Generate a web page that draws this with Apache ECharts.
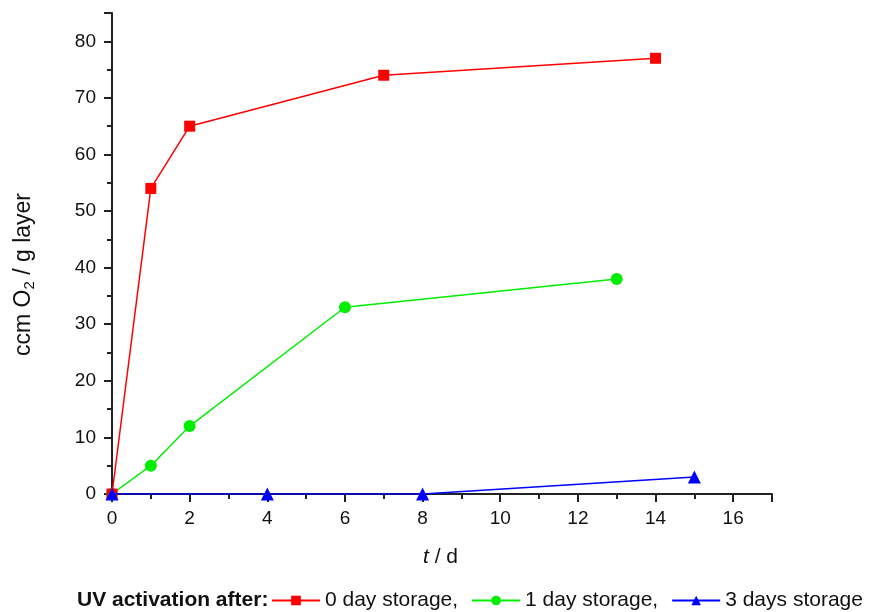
<!DOCTYPE html>
<html><head><meta charset="utf-8">
<script src="https://cdn.jsdelivr.net/npm/echarts@6/dist/echarts.min.js"></script>
<style>html,body{margin:0;padding:0;background:#fff}#c{width:872px;height:612px}</style>
</head><body><div id="c"></div>
<script>
const seriesNames = ['0 day storage,', '1 day storage,', '3 days storage'];
const red = [[0,0],[1,54],[2,65],[7,74],[14,77]];
const green = [[0,0],[1,5],[2,12],[6,33],[13,38]];
const blue = [[0,0],[4,0],[8,0],[15,3]];
const xTicks = [0,2,4,6,8,10,12,14,16];
const yTicks = [0,10,20,30,40,50,60,70,80];

const font = 'Liberation Sans, Arial, sans-serif';
const chart = echarts.init(document.getElementById('c'));
const axisLine = {show:true,lineStyle:{color:'#222',width:2}};
const axisTick = {show:true,inside:false,length:8,lineStyle:{color:'#222',width:2}};
const minorTick = {show:true,splitNumber:2,length:5,lineStyle:{color:'#222',width:2}};
chart.setOption({
  animation:false,
  backgroundColor:'#fff',
  grid:{left:112,right:100,top:13,bottom:118,containLabel:false},
  xAxis:{type:'value',min:0,max:17,interval:2,
    axisLine, axisTick, minorTick, splitLine:{show:false},
    axisLabel:{color:'#111',fontSize:19,fontFamily:font,margin:15,
      formatter:v=>xTicks.includes(v)?String(v):''}},
  yAxis:{type:'value',min:0,max:85,interval:10,
    axisLine, axisTick, minorTick, splitLine:{show:false},
    axisLabel:{color:'#111',fontSize:19,fontFamily:font,margin:16,
      formatter:v=>yTicks.includes(v)?String(v):''}},
  legend:{
    left:271, top:590, itemWidth:48, itemHeight:12, itemGap:13, padding:0,
    textStyle:{color:'#111',fontSize:21,fontFamily:font},
    data:seriesNames
  },
  graphic:[
    {type:'text',left:77,top:590,style:{text:'UV activation after:',font:'bold 21px '+font,fill:'#111'}},
    {type:'text',left:423,top:547,style:{rich:{i:{fontStyle:'italic',fontSize:21,fontFamily:font,fill:'#111'},n:{fontSize:21,fontFamily:font,fill:'#111'}},text:'{i|t}{n| / d}'}},
    {type:'text',left:12,top:193,rotation:Math.PI/2,
     style:{text:'{n|ccm O}{s|2}{n| / g layer}',rich:{n:{fontSize:23,fontFamily:font,fill:'#111'},s:{fontSize:15,fontFamily:font,fill:'#111',padding:[13,0,0,0]}}}}
  ],
  series:[
    {name:seriesNames[0],type:'line',data:red,symbol:'rect',symbolSize:11,color:'#ff0000',lineStyle:{width:1.5},z:3},
    {name:seriesNames[1],type:'line',data:green,symbol:'circle',symbolSize:12,color:'#00ee00',lineStyle:{width:1.5},z:2},
    {name:seriesNames[2],type:'line',data:blue,symbol:'triangle',symbolSize:13,color:'#0000ff',lineStyle:{width:1.5},z:4}
  ]
});
</script></body></html>
